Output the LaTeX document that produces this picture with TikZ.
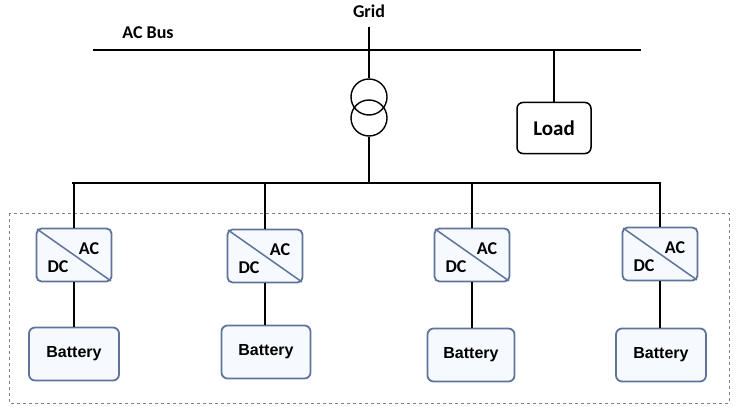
\documentclass[tikz,border=0pt]{standalone}
\usepackage{fontspec}
\setmainfont{Carlito}
\newfontfamily\batfont{Liberation Sans}
\definecolor{boxblue}{RGB}{95,115,155}
\definecolor{boxfill}{RGB}{246,249,253}
\definecolor{dashgray}{RGB}{120,130,140}
\begin{document}
\begin{tikzpicture}[x=1pt,y=-1pt,
  bus/.style={line width=2.4pt,black},
  wire/.style={line width=1.3pt,black},
  conv/.style={draw=boxblue,line width=1.8pt,rounded corners=5pt,fill=boxfill,
    minimum width=75pt,minimum height=53pt,inner sep=0pt},
  diag/.style={draw=boxblue,line width=1.5pt},
  bat/.style={draw=boxblue,line width=1.8pt,rounded corners=6pt,fill=boxfill,
    minimum height=53pt,inner sep=0pt,font=\batfont\bfseries\fontsize{16}{18}\selectfont},
  loadbox/.style={draw=black,line width=1.5pt,rounded corners=6pt,fill=white,
    minimum width=74pt,minimum height=51pt,inner sep=0pt,font=\bfseries\fontsize{21}{24}\selectfont},
  lbl/.style={font=\bfseries\fontsize{18}{20}\selectfont,inner sep=0pt},
  xfmr/.style={draw=black,line width=1.4pt,circle,minimum size=36pt,inner sep=0pt}
]
\useasboundingbox (0,0) rectangle (736,409);
% group frame
\draw[dashgray,dashed,line width=0.8pt] (9,213) rectangle (729,403);
% top
\node[lbl] (grid) at (369,11) {Grid};
\node[lbl] (acbus) at (148,33) {AC Bus};
\coordinate (busL) at (93,50);
\coordinate (busR) at (641,50);
\draw[bus] (busL) -- (busR);
\node[xfmr] (t1) at (369,97) {};
\node[xfmr] (t2) at (369,118) {};
\node[loadbox] (load) at (554,128) {Load};
\coordinate (gridtap) at (369,50);
\coordinate (loadtap) at (554,50);
\draw[wire,shorten <=9pt] (grid.south) -- (t1.north);
\draw[wire] (loadtap) -- (load.north);
% lower bus
\coordinate (lbus) at (369,183);
\coordinate (lbusL) at (72,183);
\coordinate (lbusR) at (661,183);
\draw[wire] (t2.south) -- (lbus);
\draw[line width=1.8pt] (lbusL) -- (lbusR);
% converters
\foreach \i/\x/\y in {1/74/255,2/265/256,3/472/255,4/660/254}{
  \node[conv] (c\i) at (\x,\y) {};
  \draw[diag] ([shift={(1.5pt,-1.5pt)}]c\i.north west) -- ([shift={(-1.5pt,1.5pt)}]c\i.south east);
  \node[lbl] (ac\i) at ([shift={(15pt,6pt)}]c\i.center) {AC};
  \node[lbl] (dc\i) at ([shift={(-16pt,-12pt)}]c\i.center) {DC};
  \coordinate (tap\i) at (c\i.north |- lbusL);
  \draw[wire] (tap\i) -- (c\i.north);
}
% batteries
\node[bat,minimum width=90pt] (b1) at (74,354) {Battery};
\node[bat,minimum width=89pt] (b2) at (266,352) {Battery};
\node[bat,minimum width=87pt] (b3) at (471,355) {Battery};
\node[bat,minimum width=90pt] (b4) at (661,355) {Battery};
\foreach \i in {1,2,3,4}{
  \draw[wire] (c\i.south) -- (c\i.south |- b\i.north);
}
\end{tikzpicture}
\end{document}
